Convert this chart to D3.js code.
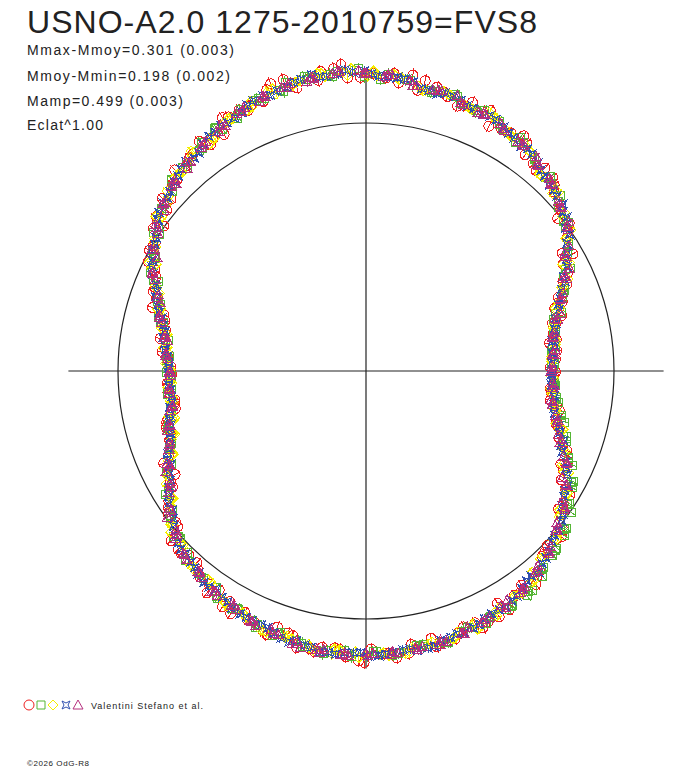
<!DOCTYPE html>
<html>
<head>
<meta charset="utf-8">
<script src="https://cdn.jsdelivr.net/npm/d3@7"></script>
<style>
body { margin: 0; background: #ffffff; }
</style>
</head>
<body>
<div class="chart"></div>
<script>
var w = 688;
var h = 768;
var cx = 366;
var cy = 371;
var R = 248;

var title = "USNO-A2.0 1275-2010759=FVS8";
var infoLines = ["Mmax-Mmoy=0.301 (0.003)", "Mmoy-Mmin=0.198 (0.002)", "Mamp=0.499 (0.003)", "Eclat^1.00"];
var legendText = "Valentini Stefano et al.";
var footer = "\u00a92026 OdG-R8";

// phase in thousandths, magnitude minus Mmoy in millimag
var circPhase = [3,17,31,44,58,72,86,100,114,128,142,156,169,183,197,211,225,239,253,267,281,294,308,322,336,350,364,378,392,406,419,433,447,461,475,489,503,517,531,544,558,572,586,600,614,628,642,656,669,683,697,711,725,739,753,767,781,794,808,822,836,850,864,878,892,906,919,933,947,961,975,989,
	10,24,38,51,65,79,93,107,121,135,149,163,176,190,204,218,232,246,260,274,288,301,315,329,343,357,371,385,399,413,426,440,454,468,482,496,510,524,538,551,565,579,593,607,621,635,649,663,676,690,704,718,732,746,760,774,788,801,815,829,843,857,871,885,899,913,926,940,954,968,982,996,
	999,12,26,40,54,68,82,96,110,124,138,152,165,179,193,207,221,235,249,263,276,290,304,318,332,346,360,374,388,401,415,429,443,457,471,485,499,513,526,540,554,568,582,596,610,624,638,651,665,679,693,707,721,735,749,763,776,790,804,818,832,846,860,874,888,901,915,929,943,957,971,985];
var circMag = [322,279,284,214,203,110,88,-14,-36,-88,-78,-144,-122,-150,-133,-179,-205,-184,-184,-221,-199,-217,-164,-171,-116,-146,-102,-88,-35,-34,0,81,121,195,189,244,265,238,265,193,185,128,103,17,-45,-32,-70,-66,-123,-111,-96,-152,-131,-157,-124,-164,-134,-139,-108,-129,-126,-71,-70,-16,-24,47,113,124,210,253,309,294,
	291,315,262,240,136,109,29,13,-50,-95,-86,-127,-108,-166,-156,-193,-170,-199,-184,-217,-175,-216,-167,-166,-124,-123,-122,-51,-53,6,20,96,117,209,220,257,238,271,212,205,154,144,52,22,-47,-33,-71,-116,-93,-131,-106,-144,-127,-170,-144,-153,-113,-141,-110,-131,-89,-104,-34,-25,25,42,127,151,222,249,310,304,
	292,309,273,274,190,148,45,12,-19,-70,-63,-127,-123,-164,-143,-169,-153,-202,-193,-233,-187,-195,-200,-154,-174,-110,-119,-88,-80,-3,4,64,95,182,209,208,260,242,267,203,190,119,109,35,16,-50,-52,-104,-84,-113,-139,-111,-152,-131,-175,-143,-121,-149,-123,-140,-80,-93,-83,-28,-35,50,74,150,179,250,269,317];

var sqPhase = [6,19,33,47,61,75,89,103,117,131,144,158,172,186,200,214,228,242,256,269,283,297,311,325,339,353,367,381,394,408,422,436,450,464,478,492,506,519,533,547,561,575,589,603,617,631,644,658,672,686,700,714,728,742,756,769,783,797,811,825,839,853,867,881,894,908,922,936,950,964,978,992,
	4,18,32,46,60,74,88,101,115,129,143,157,171,185,199,213,226,240,254,268,282,296,310,324,338,351,365,379,393,407,421,435,449,463,476,490,504,518,532,546,560,574,588,601,615,629,643,657,671,685,699,713,726,740,754,768,782,796,810,824,838,851,865,879,893,907,921,935,949,963,976,990,
	1,15,29,43,57,71,85,99,112,126,140,154,168,182,196,210,224,238,251,265,279,293,307,321,335,349,363,376,390,404,418,432,446,460,474,488,501,515,529,543,557,571,585,599,613,626,640,654,668,682,696,710,724,738,751,765,779,793,807,821,835,849,863,876,890,904,918,932,946,960,974,988];
var sqMag = [297,302,268,242,158,109,39,3,-59,-66,-100,-104,-143,-143,-172,-160,-185,-178,-211,-203,-210,-181,-178,-146,-155,-118,-109,-70,-51,-23,40,78,152,176,223,236,261,235,240,202,177,111,75,12,-8,-52,-67,-98,-95,-116,-114,-143,-142,-156,-136,-146,-130,-146,-120,-113,-117,-114,-71,-53,-28,22,57,129,176,232,277,300,
	314,287,280,212,166,86,47,-14,-37,-84,-95,-132,-134,-137,-167,-155,-185,-188,-215,-195,-199,-174,-181,-154,-154,-117,-90,-83,-56,1,34,103,132,189,233,239,262,233,234,194,173,114,54,21,-10,-58,-69,-94,-92,-128,-123,-130,-155,-151,-133,-149,-136,-144,-115,-116,-119,-107,-73,-55,-26,29,67,128,192,229,275,297,
	305,310,283,263,184,135,61,11,-20,-66,-82,-121,-124,-156,-144,-166,-167,-198,-186,-210,-200,-206,-172,-169,-136,-138,-111,-105,-58,-18,13,49,131,161,214,249,238,258,243,208,192,152,87,43,-24,-29,-63,-65,-105,-108,-132,-126,-149,-134,-150,-153,-130,-140,-125,-131,-119,-119,-95,-60,-42,-6,48,95,166,206,260,289];

var diaPhase = [8,22,36,50,64,78,92,106,119,133,147,161,175,189,203,217,231,244,258,272,286,300,314,328,342,356,369,383,397,411,425,439,453,467,481,494,508,522,536,550,564,578,592,606,619,633,647,661,675,689,703,717,731,744,758,772,786,800,814,828,842,856,869,883,897,911,925,939,953,967,981,994,
	10,24,38,51,65,79,93,107,121,135,149,163,176,190,204,218,232,246,260,274,288,301,315,329,343,357,371,385,399,413,426,440,454,468,482,496,510,524,538,551,565,579,593,607,621,635,649,663,676,690,704,718,732,746,760,774,788,801,815,829,843,857,871,885,899,913,926,940,954,968,982,996,
	999,12,26,40,54,68,82,96,110,124,138,152,165,179,193,207,221,235,249,263,276,290,304,318,332,346,360,374,388,401,415,429,443,457,471,485,499,513,526,540,554,568,582,596,610,624,638,651,665,679,693,707,721,735,749,763,776,790,804,818,832,846,860,874,888,901,915,929,943,957,971,985];
var diaMag = [311,283,277,214,166,80,35,-9,-61,-63,-108,-118,-149,-141,-163,-158,-190,-191,-218,-197,-200,-175,-181,-154,-123,-126,-95,-86,-34,-7,57,93,158,184,233,231,253,258,222,217,180,107,70,-1,-22,-59,-58,-93,-98,-130,-126,-129,-152,-135,-147,-152,-132,-137,-112,-122,-90,-85,-35,-21,27,55,121,155,226,267,307,302,
	315,281,272,238,156,111,37,-26,-41,-62,-109,-117,-146,-140,-165,-155,-182,-207,-193,-210,-195,-197,-161,-160,-132,-136,-100,-66,-54,-1,25,104,141,198,210,250,263,244,251,226,181,109,76,4,-20,-55,-58,-97,-101,-128,-119,-140,-131,-158,-141,-150,-127,-137,-136,-104,-92,-88,-44,-27,27,56,97,170,204,273,294,320,
	307,311,278,253,210,120,76,-4,-25,-62,-78,-117,-124,-157,-145,-169,-167,-199,-188,-206,-212,-188,-193,-157,-154,-115,-115,-100,-53,-33,17,44,127,161,222,237,258,239,261,240,201,143,83,46,-23,-28,-64,-67,-105,-109,-133,-124,-149,-133,-150,-154,-133,-141,-119,-132,-99,-95,-56,-41,-17,43,76,143,181,249,282,315];

var starPhase = [11,25,39,53,67,81,94,108,122,136,150,164,178,192,206,219,233,247,261,275,289,303,317,331,344,358,372,386,400,414,428,442,456,469,483,497,511,525,539,553,567,581,594,608,622,636,650,664,678,692,706,719,733,747,761,775,789,803,817,831,844,858,872,886,900,914,928,942,956,969,983,997,
	7,21,35,49,63,76,90,104,118,132,146,160,174,188,201,215,229,243,257,271,285,299,313,326,340,354,368,382,396,410,424,438,451,465,479,493,507,521,535,549,563,576,590,604,618,632,646,660,674,688,701,715,729,743,757,771,785,799,813,826,840,854,868,882,896,910,924,938,951,965,979,993,
	1,15,29,43,57,71,85,99,112,126,140,154,168,182,196,210,224,238,251,265,279,293,307,321,335,349,363,376,390,404,418,432,446,460,474,488,501,515,529,543,557,571,585,599,613,626,640,654,668,682,696,710,724,738,751,765,779,793,807,821,835,849,863,876,890,904,918,932,946,960,974,988];
var starMag = [298,296,255,216,137,85,13,-20,-56,-76,-111,-122,-146,-146,-166,-162,-189,-197,-213,-199,-197,-176,-174,-148,-142,-107,-95,-64,-42,8,45,114,155,208,223,249,245,252,221,196,143,111,47,5,-40,-54,-80,-88,-108,-111,-138,-138,-151,-138,-147,-137,-146,-125,-123,-106,-96,-65,-48,-9,19,74,118,187,229,281,295,315,
	311,286,271,219,171,98,46,-21,-46,-68,-105,-115,-143,-146,-163,-160,-187,-189,-204,-196,-202,-184,-180,-150,-141,-112,-106,-76,-54,-2,34,95,137,191,215,249,249,255,227,205,156,122,64,24,-29,-48,-78,-84,-106,-108,-133,-136,-146,-140,-150,-137,-147,-130,-126,-105,-100,-70,-56,-21,6,61,98,169,216,272,290,312,
	309,306,278,254,195,137,65,11,-43,-55,-92,-102,-134,-139,-159,-156,-181,-187,-206,-201,-212,-187,-183,-157,-152,-129,-119,-87,-65,-19,9,63,115,175,202,240,246,256,235,221,186,148,87,44,-17,-36,-63,-71,-103,-109,-123,-126,-151,-142,-152,-141,-149,-130,-131,-110,-109,-83,-75,-36,-9,44,72,131,182,250,286,312];

var triPhase = [0,14,28,42,56,69,83,97,111,125,139,153,167,181,194,208,222,236,250,264,278,292,306,319,333,347,361,375,389,403,417,431,444,458,472,486,500,514,528,542,556,569,583,597,611,625,639,653,667,681,694,708,722,736,750,764,778,792,806,819,833,847,861,875,889,903,917,931,944,958,972,986,
	4,18,32,46,60,74,88,101,115,129,143,157,171,185,199,213,226,240,254,268,282,296,310,324,338,351,365,379,393,407,421,435,449,463,476,490,504,518,532,546,560,574,588,601,615,629,643,657,671,685,699,713,726,740,754,768,782,796,810,824,838,851,865,879,893,907,921,935,949,963,976,990,
	1,15,29,43,57,71,85,99,112,126,140,154,168,182,196,210,224,238,251,265,279,293,307,321,335,349,363,376,390,404,418,432,446,460,474,488,501,515,529,543,557,571,585,599,613,626,640,654,668,682,696,710,724,738,751,765,779,793,807,821,835,849,863,876,890,904,918,932,946,960,974,988];
var triMag = [317,297,294,243,198,125,79,7,-28,-68,-87,-114,-121,-143,-145,-171,-170,-197,-200,-208,-195,-198,-179,-172,-142,-132,-103,-94,-61,-36,20,57,125,162,212,229,254,247,252,213,187,133,98,38,0,-42,-57,-88,-92,-111,-114,-139,-141,-150,-139,-149,-136,-143,-129,-120,-96,-93,-65,-42,0,26,80,125,197,242,292,304,
	310,287,277,220,170,92,42,-17,-37,-76,-107,-114,-139,-140,-169,-166,-183,-188,-209,-203,-189,-191,-168,-164,-137,-124,-94,-84,-42,-7,47,83,146,180,230,242,258,243,232,196,170,113,75,7,-22,-54,-66,-89,-97,-122,-124,-147,-137,-150,-141,-146,-137,-139,-115,-114,-88,-85,-51,-27,18,56,114,154,221,263,305,307,
	306,303,284,258,191,131,79,2,-30,-63,-84,-119,-126,-143,-148,-169,-169,-196,-198,-211,-202,-185,-184,-159,-155,-128,-117,-81,-66,-24,7,59,124,164,213,229,255,249,251,215,180,142,100,35,-9,-45,-56,-82,-88,-114,-124,-127,-151,-144,-149,-139,-146,-129,-132,-114,-113,-86,-63,-41,2,29,80,126,196,244,291,298];

// typical error of one measure, millimag (circles, squares, diamonds, stars, triangles)
var errMag = [24, 22, 20, 18, 18];

var symCircle = "M5,0A5,5 0 1,1 -5,0A5,5 0 1,1 5,0Z";
var symSquare = "M-4,-4H4V4H-4Z";
var symDiamond = "M0,-5L5,0L0,5L-5,0Z";
var symStar = "M-4,-4L0,-2L4,-4L2,0L4,4L0,2L-4,4L-2,0Z";
var symTri = "M0,-5L5,4H-5Z";

var series = [
	{ phase: circPhase, mag: circMag, err: errMag[0], sym: symCircle, color: "#ee2020" },
	{ phase: sqPhase, mag: sqMag, err: errMag[1], sym: symSquare, color: "#55b535" },
	{ phase: diaPhase, mag: diaMag, err: errMag[2], sym: symDiamond, color: "#f5ee00" },
	{ phase: starPhase, mag: starMag, err: errMag[3], sym: symStar, color: "#3050b0" },
	{ phase: triPhase, mag: triMag, err: errMag[4], sym: symTri, color: "#b5307f" }
];

var svg = d3.select(".chart")
	.append("svg")
	.attr("width", w)
	.attr("height", h)
	.style("background", "#ffffff");

// flux relative to the mean (Eclat^1) -> radius
var rScale = d3.scaleLinear().domain([0, 1]).range([0, R]);
var aScale = d3.scaleLinear().domain([0, 1000]).range([0, 2 * Math.PI]);

function pos(ph, dm) {
	var r = rScale(Math.pow(10, -0.4 * dm / 1000));
	var a = aScale(ph);
	return [cx + r * Math.cos(a), cy - r * Math.sin(a)];
}

// mean circle and axes
svg.append("circle")
	.attr("cx", cx)
	.attr("cy", cy)
	.attr("r", rScale(1))
	.attr("fill", "none")
	.attr("stroke", "#222222")
	.attr("stroke-width", 1.2);

svg.append("line")
	.attr("x1", cx - rScale(1.2))
	.attr("y1", cy)
	.attr("x2", cx + rScale(1.2))
	.attr("y2", cy)
	.attr("stroke", "#222222")
	.attr("stroke-width", 1.2);

svg.append("line")
	.attr("x1", cx)
	.attr("y1", cy - rScale(1.2))
	.attr("x2", cx)
	.attr("y2", cy + rScale(1.2))
	.attr("stroke", "#222222")
	.attr("stroke-width", 1.2);

// points with radial error bars
series.forEach(function(s) {
	var g = svg.append("g")
		.attr("fill", "none")
		.attr("stroke", s.color)
		.attr("stroke-width", 1)
		.style("shape-rendering", "crispEdges");

	var idx = d3.range(s.phase.length);

	g.selectAll("line")
		.data(idx)
		.enter()
		.append("line")
		.each(function(i) {
			var p1 = pos(s.phase[i], s.mag[i] - s.err);
			var p2 = pos(s.phase[i], s.mag[i] + s.err);
			d3.select(this)
				.attr("x1", p1[0]).attr("y1", p1[1])
				.attr("x2", p2[0]).attr("y2", p2[1]);
		});

	g.selectAll("path")
		.data(idx)
		.enter()
		.append("path")
		.attr("d", s.sym)
		.attr("transform", function(i) {
			var p = pos(s.phase[i], s.mag[i]);
			return "translate(" + p[0] + "," + p[1] + ")";
		});
});

// texts
svg.append("text")
	.attr("x", 27)
	.attr("y", 33)
	.text(title)
	.attr("font-family", "Liberation Sans, Arial, sans-serif")
	.attr("font-size", "32")
	.attr("textLength", 510)
	.attr("lengthAdjust", "spacing")
	.attr("fill", "#222222");

var infoWidths = [207, 203, 156, 76];
var infoY = [55, 81, 106, 130];
infoLines.forEach(function(t, i) {
	svg.append("text")
		.attr("x", 27)
		.attr("y", infoY[i])
		.text(t)
		.attr("font-family", "Liberation Sans, Arial, sans-serif")
		.attr("font-size", "14")
		.attr("textLength", infoWidths[i])
		.attr("lengthAdjust", "spacing")
		.attr("fill", "#222222");
});

// legend
var legX = [29, 41, 53, 66, 78];
series.forEach(function(s, i) {
	svg.append("path")
		.attr("d", s.sym)
		.attr("transform", "translate(" + legX[i] + ",705)")
		.attr("fill", "none")
		.attr("stroke", s.color)
		.attr("stroke-width", 1);
});

svg.append("text")
	.attr("x", 91)
	.attr("y", 709)
	.text(legendText)
	.attr("font-family", "Liberation Sans, Arial, sans-serif")
	.attr("font-size", "9")
	.attr("textLength", 112)
	.attr("lengthAdjust", "spacing")
	.attr("fill", "#222222");

svg.append("text")
	.attr("x", 27)
	.attr("y", 766)
	.text(footer)
	.attr("font-family", "Liberation Sans, Arial, sans-serif")
	.attr("font-size", "8")
	.attr("textLength", 62)
	.attr("lengthAdjust", "spacing")
	.attr("fill", "#222222");
</script>
</body>
</html>
